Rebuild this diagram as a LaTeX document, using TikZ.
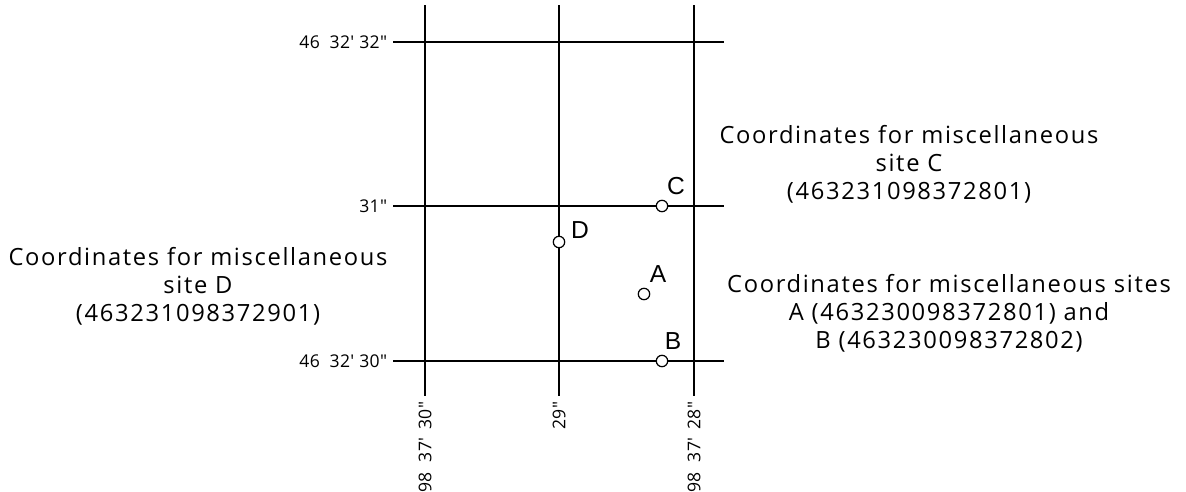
\documentclass[tikz,border=0pt]{standalone}
\usepackage{fontspec}
\setmainfont{Open Sans}[LetterSpace=7]
\newfontfamily\tickfont{Open Sans}[LetterSpace=2]
\newfontfamily\sitefont{Liberation Sans}
\usetikzlibrary{positioning}

\newcommand\amin{\char"0027\relax}
\newcommand\asec{\char"0022\relax}

\tikzset{
  site/.style={circle, draw, fill=white, inner sep=0pt, minimum size=6.5pt},
  sitelab/.style={font=\sitefont\fontsize{14}{14}\selectfont, inner sep=0pt},
  coordtxt/.style={align=center, font=\fontsize{13.5}{16}\selectfont},
  ticklab/.style={font=\tickfont\fontsize{10}{10}\selectfont, inner sep=2pt}
}

\begin{document}
\begin{tikzpicture}[x=0.02cm,y=-0.02cm,line cap=butt,line width=0.7pt]
    \useasboundingbox (0,0) rectangle (1186,492);
    % parallels
    \draw (393,42) node[ticklab, left=1pt] (lat32) {46\ \ 32\amin\ 32\asec} -- (724,42);
    \draw (393,206) node[ticklab, left=1pt] (lat31) {31\asec} -- (724,206);
    \draw (393,361) node[ticklab, left=1pt] (lat30) {46\ \ 32\amin\ 30\asec} -- (724,361);
    % meridians
    \draw (425,396) node[ticklab, rotate=90, anchor=east, xshift=-1pt] (lon30) {98\ \ 37\amin\ \,30\asec} -- (425,5);
    \draw (559,396) node[ticklab, rotate=90, anchor=east, xshift=-1pt] (lon29) {29\asec} -- (559,5);
    \draw (694,396) node[ticklab, rotate=90, anchor=east, xshift=-1pt] (lon28) {98\ \ 37\amin\ \,28\asec} -- (694,5);

    % sites
    \node[site] (C) at (662,206) {};
    \node[site] (D) at (559,242) {};
    \node[site] (A) at (644,294) {};
    \node[site] (B) at (662,361) {};
    \node[sitelab] (labC) at ([shift={(14,-20)}]C) {C};
    \node[sitelab] (labD) at ([shift={(21,-12)}]D) {D};
    \node[sitelab] (labA) at ([shift={(14,-20)}]A) {A};
    \node[sitelab] (labB) at ([shift={(11,-20)}]B) {B};

    % texts
    \node[coordtxt] (txtD) at (198,286) {Coordinates for miscellaneous\\site D\\(463231098372901)};
    \node[coordtxt] (txtC) at (909,164) {Coordinates for miscellaneous\\site C\\(463231098372801)};
    \node[coordtxt] (txtAB) at (949,313) {Coordinates for miscellaneous sites\\A (463230098372801) and\\B (463230098372802)};
\end{tikzpicture}
\end{document}
